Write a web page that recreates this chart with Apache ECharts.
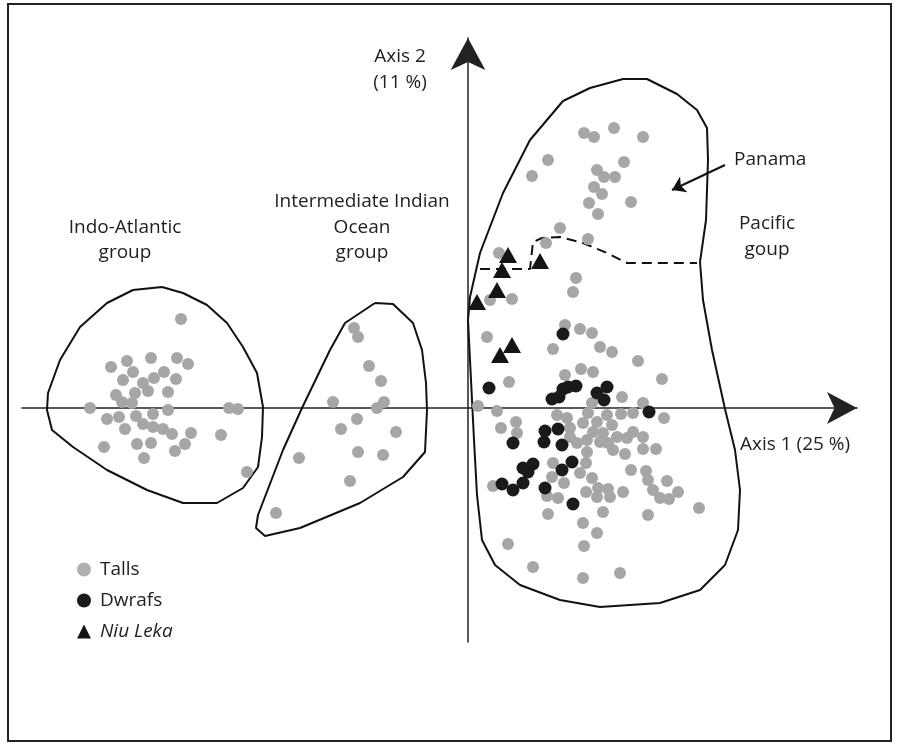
<!DOCTYPE html>
<html>
<head>
<meta charset="utf-8">
<script src="https://cdn.jsdelivr.net/npm/echarts@6/dist/echarts.min.js"></script>
<style>html,body{margin:0;padding:0;background:#fff}#c{width:898px;height:747px}</style>
</head>
<body>
<div id="c"></div>
<script>
// PCA scores (Axis 1, Axis 2)
const talls = [
  [-2.87,0.89],[-3.57,0.41],[-3.41,0.47],[-3.17,0.50],[-2.91,0.50],[-2.80,0.44],[-3.35,0.36],[-3.04,0.36],
  [-3.45,0.28],[-3.14,0.30],[-3.25,0.25],[-2.92,0.29],[-3.20,0.17],[-3.00,0.16],[-3.52,0.13],[-3.33,0.15],
  [-3.46,0.06],[-3.36,0.05],[-3.78,0.00],[-3.15,-0.06],[-3.00,-0.02],[-2.39,0.00],[-2.30,-0.01],[-3.61,-0.11],
  [-3.49,-0.09],[-3.32,-0.08],[-3.25,-0.16],[-3.15,-0.19],[-3.05,-0.21],[-2.96,-0.26],[-3.43,-0.21],[-2.77,-0.25],
  [-2.47,-0.27],[-3.64,-0.39],[-3.31,-0.36],[-3.17,-0.35],[-2.83,-0.36],[-2.93,-0.43],[-3.24,-0.50],[-2.21,-0.64],
  [-1.14,0.80],[-1.10,0.71],[-0.99,0.42],[-0.87,0.27],[-1.35,0.06],[-0.84,0.06],[-0.91,0.00],[-1.11,-0.11],
  [-1.27,-0.21],[-0.72,-0.24],[-1.69,-0.50],[-1.10,-0.44],[-0.85,-0.47],[-1.18,-0.73],[-1.92,-1.05],
  [1.16,2.75],[1.26,2.71],[1.46,2.80],[1.75,2.71],[0.80,2.48],[0.64,2.32],[1.56,2.46],[1.29,2.38],
  [1.36,2.31],[1.47,2.31],[1.26,2.21],[1.34,2.14],[1.63,2.06],[1.21,2.05],[1.30,1.94],[0.92,1.80],
  [1.20,1.69],[0.78,1.65],[0.31,1.55],[1.08,1.30],[1.05,1.16],[0.22,1.08],[0.44,1.09],
  [0.19,0.71],[0.97,0.83],[1.12,0.79],[1.24,0.75],[0.85,0.59],[1.32,0.61],[1.44,0.56],[1.70,0.47],
  [0.41,0.26],[1.13,0.39],[1.25,0.36],[0.97,0.33],[1.94,0.29],[1.54,0.11],[1.75,0.05],[0.10,0.02],
  [0.29,-0.03],[1.24,0.05],[1.65,-0.05],[1.96,-0.10],
  [0.33,-0.20],[0.48,-0.14],[0.49,-0.25],[0.89,-0.07],[0.99,-0.10],[1.02,-0.20],[1.02,-0.29],[1.15,-0.15],
  [1.20,-0.05],[1.29,-0.14],[1.39,-0.07],[1.53,-0.06],[1.44,-0.17],[1.25,-0.24],[1.35,-0.25],[1.32,-0.34],
  [1.19,-0.32],[1.09,-0.35],[1.19,-0.44],[1.40,-0.35],[1.49,-0.29],[1.59,-0.30],[1.65,-0.24],[1.75,-0.29],
  [1.45,-0.42],[1.57,-0.46],[1.75,-0.41],[1.88,-0.41],[0.85,-0.55],[1.18,-0.55],[1.12,-0.65],[1.24,-0.70],
  [1.63,-0.62],[1.78,-0.63],[1.80,-0.72],[1.99,-0.73],[2.10,-0.84],[1.85,-0.82],[1.92,-0.90],[2.01,-0.91],
  [0.25,-0.78],[0.84,-0.69],[0.96,-0.75],[0.79,-0.88],[0.90,-0.90],[1.18,-0.84],[1.30,-0.80],[1.40,-0.81],
  [1.29,-0.89],[1.42,-0.89],[1.55,-0.84],[0.80,-1.06],[1.35,-1.04],[1.80,-1.07],[2.31,-1.00],[1.15,-1.15],
  [1.29,-1.25],[0.40,-1.36],[1.16,-1.38],[0.65,-1.59],[1.15,-1.70],[1.52,-1.65]
];
const dwarfs = [
  [0.95,0.74],[0.21,0.20],[0.84,0.09],[0.91,0.11],[0.95,0.19],[1.00,0.21],[1.08,0.22],[1.29,0.15],
  [1.39,0.21],[1.36,0.08],[1.81,-0.04],[0.77,-0.23],[0.90,-0.21],[0.45,-0.35],[0.76,-0.34],[0.94,-0.37],
  [0.55,-0.60],[0.65,-0.56],[0.60,-0.64],[1.04,-0.54],[0.94,-0.62],[0.34,-0.76],[0.45,-0.82],[0.55,-0.75],
  [0.77,-0.80],[1.05,-0.96]
];
const niuLeka = [
  [0.40,1.53],[0.72,1.47],[0.34,1.38],[0.29,1.18],[0.09,1.06],[0.44,0.63],[0.32,0.53]
];
// group outlines
const indoAtlanticHull = [
  [-3.06,1.21],[-3.35,1.18],[-3.61,1.05],[-3.88,0.81],[-4.08,0.48],[-4.20,0.15],[-4.21,-0.02],[-4.16,-0.22],
  [-3.95,-0.39],[-3.61,-0.62],[-3.21,-0.82],[-2.85,-0.95],[-2.51,-0.95],[-2.25,-0.80],[-2.10,-0.59],[-2.06,-0.29],
  [-2.05,0.01],[-2.11,0.35],[-2.25,0.61],[-2.41,0.85],[-2.61,1.03],[-2.85,1.15],[-3.06,1.21]
];
const indianOceanHull = [
  [-0.93,1.05],[-0.75,1.04],[-0.55,0.85],[-0.46,0.58],[-0.42,0.25],[-0.41,-0.02],[-0.43,-0.44],[-0.65,-0.69],
  [-1.08,-0.95],[-1.68,-1.20],[-2.03,-1.28],[-2.12,-1.20],[-2.10,-1.07],[-1.85,-0.42],[-1.66,0.00],[-1.38,0.58],
  [-1.23,0.85],[-0.93,1.05]
];
const pacificHull = [
  [0.95,3.07],[1.22,3.20],[1.55,3.29],[1.79,3.29],[2.09,3.14],[2.29,2.98],[2.39,2.80],[2.40,2.48],
  [2.38,1.88],[2.32,1.46],[2.35,1.08],[2.44,0.58],[2.57,-0.01],[2.67,-0.42],[2.72,-0.82],[2.70,-1.22],
  [2.57,-1.57],[2.32,-1.82],[1.92,-1.95],[1.32,-1.99],[0.92,-1.92],[0.52,-1.77],[0.27,-1.57],[0.14,-1.32],
  [0.09,-0.87],[0.06,-0.32],[0.03,0.28],[0.00,0.88],[0.02,1.11],[0.12,1.55],[0.35,2.15],[0.62,2.68],[0.95,3.07]
];
const panamaBoundary = [
  [0.12,1.39],[0.62,1.39],[0.65,1.66],[0.74,1.70],[0.92,1.71],[1.15,1.65],[1.39,1.55],[1.59,1.45],[2.29,1.45]
];
const panamaArrow = [[2.57,2.43],[2.04,2.18]];

const FONT = '"Open Sans", Lato, sans-serif';
const INK = '#1e1e1e';
function txt(x, y, s, align, extra) {
  return Object.assign({type:'text', x:x, y:y, style:{text:s, fill:INK, font:'19px ' + FONT,
    textAlign:align || 'center', textVerticalAlign:'middle'}}, extra || {});
}
function hull(name, data) {
  return {name:name, type:'line', data:data, showSymbol:false, symbol:'none', silent:true,
    lineStyle:{color:'#111', width:2}, z:1};
}

const chart = echarts.init(document.getElementById('c'), null, {renderer:'canvas'});
chart.setOption({
  animation:false,
  backgroundColor:'#fff',
  grid:{left:22, right:41, top:38, bottom:105},
  xAxis:{type:'value', min:-4.46, max:3.89,
    axisLine:{show:true, onZero:true, symbol:['none','arrow'], symbolSize:[24,30], lineStyle:{color:'#222', width:1.5}},
    axisTick:{show:false}, axisLabel:{show:false}, splitLine:{show:false}},
  yAxis:{type:'value', min:-2.34, max:3.70,
    axisLine:{show:true, onZero:true, symbol:['none','arrow'], symbolSize:[26,32], lineStyle:{color:'#222', width:1.5}},
    axisTick:{show:false}, axisLabel:{show:false}, splitLine:{show:false}},
  legend:{orient:'vertical', left:72, top:555, itemWidth:14, itemHeight:14, itemGap:12,
    selectedMode:false,
    data:[{name:'Talls', icon:'circle', itemStyle:{color:'#b0b0b0'}},{name:'Dwrafs', icon:'circle'},{name:'Niu Leka', icon:'triangle'}],
    formatter:function(n){ return n === 'Niu Leka' ? '{i|' + n + '}' : n; },
    textStyle:{fontFamily:FONT, fontSize:19, color:INK, lineHeight:14, padding:[0,0,0,4],
      rich:{i:{fontFamily:FONT, fontSize:19, fontStyle:'italic', color:INK, lineHeight:14}}}},
  series:[
    hull('h1', indoAtlanticHull),
    hull('h2', indianOceanHull),
    hull('h3', pacificHull),
    {name:'boundary', type:'line', data:panamaBoundary, symbol:'none', silent:true,
      lineStyle:{color:'#111', width:2, type:[10,6]}, z:1},
    {name:'arrow', type:'lines', coordinateSystem:'cartesian2d', silent:true,
      symbol:['none','arrow'], symbolSize:13,
      lineStyle:{color:'#111', width:2, opacity:1},
      data:[{coords:panamaArrow}], z:3},
    {name:'Talls', type:'scatter', data:talls, symbol:'circle', symbolSize:12,
      itemStyle:{color:'#a6a6a6', opacity:1}, z:2},
    {name:'Dwrafs', type:'scatter', data:dwarfs, symbol:'circle', symbolSize:13,
      itemStyle:{color:'#1a1a1a', opacity:1}, z:3},
    {name:'Niu Leka', type:'scatter', data:niuLeka, symbol:'triangle', symbolSize:[18,16],
      itemStyle:{color:'#141414', opacity:1}, z:4}
  ],
  graphic:[
    {type:'rect', shape:{x:8, y:4, width:883, height:737}, style:{fill:'none', stroke:'#222', lineWidth:2}, z:-1},
    txt(125, 228, 'Indo-Atlantic'), txt(125, 253, 'group'),
    txt(362, 202, 'Intermediate Indian'), txt(362, 228, 'Ocean'), txt(362, 253, 'group'),
    txt(400, 57, 'Axis 2'), txt(400, 83, '(11 %)'),
    txt(734, 160, 'Panama', 'left'),
    txt(767, 224, 'Pacific'), txt(767, 250, 'goup'),
    txt(740, 445, 'Axis 1 (25 %)', 'left')
  ]
});
</script>
</body>
</html>
